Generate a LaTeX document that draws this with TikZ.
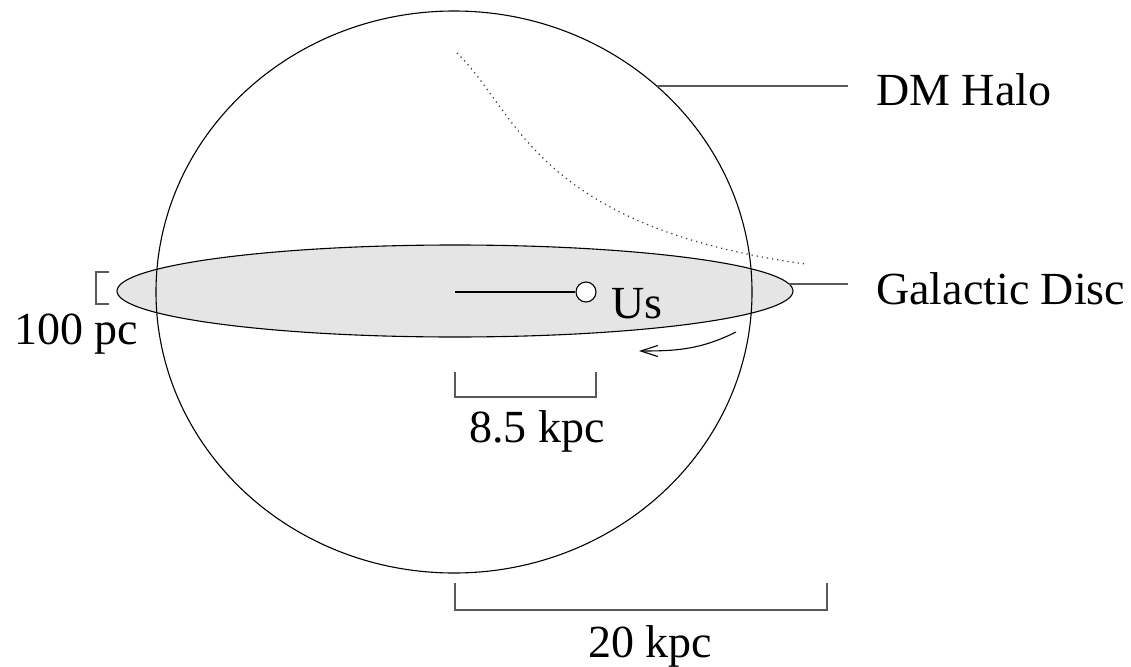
\documentclass[tikz,border=0pt]{standalone}
\usepackage{fontspec}
\setmainfont{Liberation Serif}
\usetikzlibrary{shapes.geometric,arrows.meta}
\begin{document}
\begin{tikzpicture}[x=1pt,y=-1pt,
  thinline/.style={line width=1.1pt,black},
  conn/.style={line width=1.3pt,black!65},
  lab/.style={inner sep=0pt,font=\fontsize{46}{55}\selectfont},
  dots/.style={line width=1.2pt,dash pattern=on 1.2pt off 4pt,black!80}]
\useasboundingbox (0,0) rectangle (1131,666);
% disc
\node[ellipse,draw,thinline,fill=black!10,minimum width=676pt,minimum height=92pt,inner sep=0pt] (disc) at (455,291) {};
% halo
\node[ellipse,draw,thinline,minimum width=596pt,minimum height=562pt,inner sep=0pt] (halo) at (454,292) {};
% dotted curve
\coordinate (p0) at (457,53);
\coordinate (p3) at (805,264);
\draw[dots] (p0) .. controls (518,112) and (533,226) .. (p3);
% Us
\coordinate (gc) at (455,292);
\node[circle,draw,thinline,fill=white,minimum size=20pt,inner sep=0pt] (us) at (586,292) {};
\draw[thinline] (gc) -- (us.west);
\node[lab,anchor=base west] (uslab) at (611,318) {Us};
% labels
\coordinate (hl1) at (657,86);
\coordinate (hl2) at (848,86);
\draw[conn] (hl1) -- (hl2);
\node[lab,anchor=base west] (halolab) at (876,106) {DM Halo};
\coordinate (dl1) at (789,284);
\coordinate (dl2) at (848,284);
\draw[conn] (dl1) -- (dl2);
\node[lab,anchor=base west] (disclab) at (876,304) {Galactic Disc};
% rotation arrow
\coordinate (a1) at (736,332);
\coordinate (a2) at (639,351);
\draw[line width=1.1pt,-{Straight Barb[length=17pt,width=11pt]}] (a1) .. controls (700,350) and (675,351) .. (a2);
% 100 pc bracket
\coordinate (b1) at (109,272);
\coordinate (b2) at (109,304);
\draw[conn] (b1) -- (96,272) -- (96,304) -- (b2);
\node[lab,anchor=base west] (pclab) at (14,344) {100 pc};
% 8.5 kpc bracket
\coordinate (c1) at (455,372);
\coordinate (c2) at (596,372);
\draw[conn] (c1) -- (455,397) -- (596,397) -- (c2);
\node[lab,anchor=base] (kpc1) at (537,442) {8.5 kpc};
% 20 kpc bracket
\coordinate (d1) at (455,583);
\coordinate (d2) at (827,583);
\draw[conn] (d1) -- (455,610) -- (827,610) -- (d2);
\node[lab,anchor=base] (kpc2) at (650,657) {20 kpc};
\end{tikzpicture}
\end{document}
